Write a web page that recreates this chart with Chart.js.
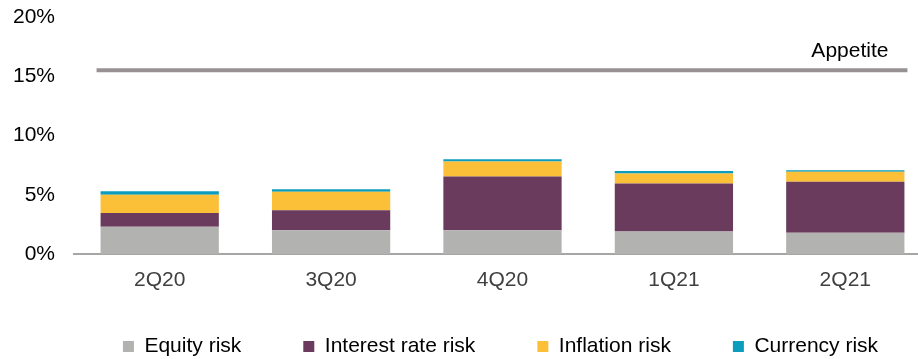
<!DOCTYPE html>
<html>
<head>
<meta charset="utf-8">
<script src="https://cdn.jsdelivr.net/npm/chart.js@4/dist/chart.umd.min.js"></script>
<style>
  html, body { margin: 0; padding: 0; background: #fff; overflow: hidden; }
  #wrap { width: 932px; height: 359px; }
</style>
</head>
<body>
<div id="wrap"><canvas id="riskChart"></canvas></div>
<script>
// ---- data ----
const quarters   = ['2Q20', '3Q20', '4Q20', '1Q21', '2Q21'];
const equity     = [2.3, 2.0, 2.0, 1.9, 1.8];
const interest   = [1.15, 1.7, 4.55, 4.05, 4.3];
const inflation  = [1.55, 1.55, 1.25, 0.85, 0.85];
const currency   = [0.3, 0.22, 0.2, 0.2, 0.12];
const appetite   = 15.5;
const yTicks     = [0, 5, 10, 15, 20];

const FONT = 'Liberation Sans, Arial, sans-serif';

// appetite line + label, drawn through the y scale
const appetitePlugin = {
  id: 'appetite',
  afterLayout(chart) {
    // legend row sits closer to the axis labels, centred on the plot area
    const l = chart.legend;
    l.top -= 16;
    const dx = (chart.chartArea.left + chart.chartArea.right) / 2 - (l.left + l.right) / 2 - 2;
    l.left += dx; l.right += dx;
  },
  afterDatasetsDraw(chart) {
    const y = chart.scales.y.getPixelForValue(appetite);
    const first = chart.getDatasetMeta(0).data[0];
    const last = chart.getDatasetMeta(0).data[quarters.length - 1];
    const x0 = first.x - first.width / 2 - 4;
    const x1 = last.x + last.width / 2 + 3;
    const ctx = chart.ctx;
    ctx.save();
    ctx.strokeStyle = '#979193';
    ctx.lineWidth = 4;
    ctx.beginPath();
    ctx.moveTo(x0, y);
    ctx.lineTo(x1, y);
    ctx.stroke();
    ctx.fillStyle = '#000';
    ctx.font = '21px ' + FONT;
    ctx.textAlign = 'right';
    ctx.textBaseline = 'alphabetic';
    ctx.fillText('Appetite', x1 - 19, y - 13);
    ctx.restore();
  }
};

new Chart(document.getElementById('riskChart'), {
  type: 'bar',
  data: {
    labels: quarters,
    datasets: [
      { label: 'Equity risk',        data: equity,    backgroundColor: '#B2B3B1' },
      { label: 'Interest rate risk', data: interest,  backgroundColor: '#6A3B5C' },
      { label: 'Inflation risk',     data: inflation, backgroundColor: '#FBBF38' },
      { label: 'Currency risk',      data: currency,  backgroundColor: '#0C9DBD' }
    ]
  },
  options: {
    responsive: true,
    maintainAspectRatio: false,
    animation: false,
    datasets: { bar: { categoryPercentage: 1, barPercentage: 0.69 } },
    layout: { padding: { top: 17, right: 1, left: 0, bottom: 0 } },
    plugins: {
      tooltip: { enabled: false },
      legend: {
        position: 'bottom',
        maxHeight: 69,
        labels: {
          boxWidth: 11,
          boxHeight: 11,
          padding: 62,
          color: '#000',
          font: { family: FONT, size: 21 }
        }
      }
    },
    scales: {
      x: {
        stacked: true,
        grid: { display: false, drawTicks: false },
        border: { display: true, color: '#A6A6A6', width: 2 },
        ticks: { color: '#404040', padding: 14, font: { family: FONT, size: 21 } },
        afterFit: s => { s.height = 36; }
      },
      y: {
        stacked: true,
        min: 0,
        max: 20,
        grid: { display: false, drawTicks: false },
        border: { display: false },
        afterBuildTicks: s => { s.ticks = yTicks.map(v => ({ value: v })); },
        ticks: {
          color: '#000',
          padding: 19,
          font: { family: FONT, size: 21 },
          callback: v => v + '%'
        },
        afterFit: s => { s.width = 74; s.paddingTop = 0; s.paddingBottom = 0; }
      }
    }
  },
  plugins: [appetitePlugin]
});
</script>
</body>
</html>
